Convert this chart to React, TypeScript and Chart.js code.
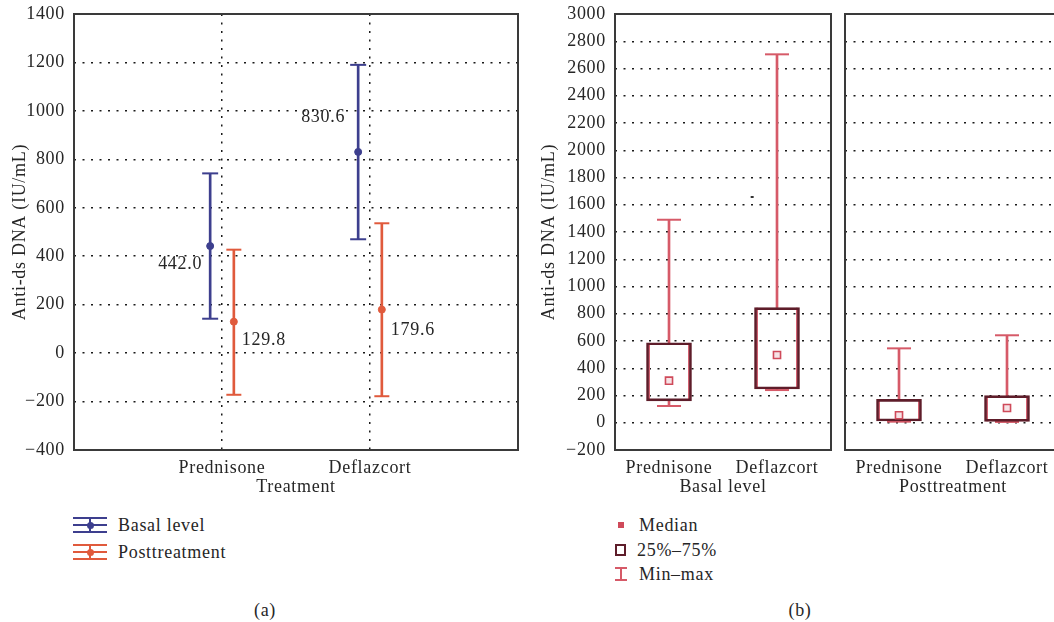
import React, { useEffect, useRef } from 'react';
import { Chart, registerables } from 'chart.js';

Chart.register(...registerables);

// ---------- data ----------
const treatments = ['Prednisone', 'Deflazcort'];
const basalMean = [442.0, 830.6];
const basalLow = [142, 470];
const basalHigh = [742, 1190];
const postMean = [129.8, 179.6];
const postLow = [-172, -178];
const postHigh = [427, 536];
const leftYMin = -400;
const leftYMax = 1400;

const boxCategories = ['Prednisone', 'Deflazcort'];
const basalMin = [123, 240];
const basalQ1 = [160, 248];
const basalMedian = [309, 497];
const basalQ3 = [587, 845];
const basalMax = [1490, 2704];
const postMin = [8, 6];
const postQ1 = [13, 10];
const postMedian = [55, 108];
const postQ3 = [172, 199];
const postMax = [546, 642];
const basalStrayPos = [2.54];
const basalStrayValue = [1657];
const rightYMin = -200;
const rightYMax = 3000;
const yStep = 200;

// ---------- style ----------
const FONT = "'Liberation Serif', 'Times New Roman', serif";
const TEXT = '#262626';
const GRID = '#1a1a1a';
const FRAME = '#3a3a3a';
const BLUE = '#3d3f8e';
const ORANGE = '#e05a3c';
const WHISK = '#d65a68';
const BOXC = '#5e1d2a';
const BOXIN = '#d26070';
const MED = '#cf4a5a';
const DASH = [2, 6.5];
const SPACING = '0.7px';

const basalLabelOffset = [[-30, 18], [-35, -35]];
const postLabelOffset = [[30, 19], [31, 21]];
const OFFS = 0.08;

const fmt = (v: number) => (v < 0 ? '\u2212' + String(-v) : String(v));

const spacingPlugin = {
  id: 'spacing',
  beforeDraw(chart: any) {
    try {
      chart.ctx.letterSpacing = SPACING;
    } catch (e) {
      /* ignore */
    }
  },
};

const framePlugin = {
  id: 'frame',
  afterDatasetsDraw(chart: any) {
    const { ctx, chartArea: a } = chart;
    ctx.save();
    ctx.strokeStyle = FRAME;
    ctx.lineWidth = 2;
    ctx.strokeRect(a.left, a.top, a.right - a.left, a.bottom - a.top);
    ctx.restore();
  },
};

function yScale(min: number, max: number, title: string, showLabels: boolean, width: number, titlePad: number) {
  return {
    type: 'linear',
    min,
    max,
    ticks: {
      stepSize: yStep,
      display: showLabels,
      padding: 9,
      color: TEXT,
      font: { family: FONT, size: 18 },
      callback: (v: number) => fmt(v),
    },
    grid: { color: GRID, lineWidth: 1.5, drawTicks: false },
    border: { display: false, dash: DASH },
    title: {
      display: !!title,
      text: title,
      color: TEXT,
      font: { family: FONT, size: 18 },
      padding: { top: titlePad, bottom: 0 },
    },
    afterFit: (s: any) => {
      s.width = width;
      s.paddingTop = 0;
      s.paddingBottom = 0;
    },
  };
}

function xScale(labels: string[], positions: number[], max: number, title: string, vgrid: boolean) {
  return {
    type: 'linear',
    min: 0,
    max,
    offset: false,
    afterBuildTicks: (s: any) => {
      s.ticks = positions.map((v) => ({ value: v }));
    },
    ticks: {
      callback: (v: number) => {
        const i = positions.indexOf(v);
        return i >= 0 ? labels[i] : '';
      },
      padding: 7,
      maxRotation: 0,
      autoSkip: false,
      color: TEXT,
      font: { family: FONT, size: 18 },
    },
    grid: { display: vgrid, offset: false, color: GRID, lineWidth: 1.5, drawTicks: false },
    border: { display: false, dash: DASH },
    title: {
      display: true,
      text: title,
      color: TEXT,
      font: { family: FONT, size: 18 },
      padding: { top: 0, bottom: 2 },
    },
    afterFit: (s: any) => {
      s.height = 50;
      s.paddingLeft = 0;
      s.paddingRight = 0;
    },
  };
}

function leftConfig(): any {
  const basalX = treatments.map((_, i) => i + 1 - OFFS);
  const postX = treatments.map((_, i) => i + 1 + OFFS);
  const labelPlugin = {
    id: 'meanLabels',
    afterDatasetsDraw(chart: any) {
      const { ctx, scales } = chart;
      const x = scales.x;
      const y = scales.y;
      ctx.save();
      ctx.font = `18px ${FONT}`;
      ctx.fillStyle = TEXT;
      ctx.textAlign = 'center';
      ctx.textBaseline = 'middle';
      basalMean.forEach((m, i) => {
        ctx.fillText(
          m.toFixed(1),
          x.getPixelForValue(basalX[i]) + basalLabelOffset[i][0],
          y.getPixelForValue(m) + basalLabelOffset[i][1]
        );
      });
      postMean.forEach((m, i) => {
        ctx.fillText(
          m.toFixed(1),
          x.getPixelForValue(postX[i]) + postLabelOffset[i][0],
          y.getPixelForValue(m) + postLabelOffset[i][1]
        );
      });
      ctx.restore();
    },
  };
  return {
    type: 'bar',
    data: {
      datasets: [
        {
          type: 'scatter',
          data: basalMean.map((m, i) => ({ x: basalX[i], y: m })),
          pointStyle: 'circle',
          pointRadius: 3.5,
          backgroundColor: BLUE,
          borderColor: BLUE,
          order: 0,
        },
        {
          type: 'scatter',
          data: postMean.map((m, i) => ({ x: postX[i], y: m })),
          pointStyle: 'circle',
          pointRadius: 3.5,
          backgroundColor: ORANGE,
          borderColor: ORANGE,
          order: 0,
        },
        {
          type: 'scatter',
          data: [
            ...basalLow.map((v, i) => ({ x: basalX[i], y: v })),
            ...basalHigh.map((v, i) => ({ x: basalX[i], y: v })),
          ],
          pointStyle: 'line',
          pointRadius: 8,
          borderWidth: 2,
          borderColor: BLUE,
          order: 1,
        },
        {
          type: 'scatter',
          data: [
            ...postLow.map((v, i) => ({ x: postX[i], y: v })),
            ...postHigh.map((v, i) => ({ x: postX[i], y: v })),
          ],
          pointStyle: 'line',
          pointRadius: 7.5,
          borderWidth: 2,
          borderColor: ORANGE,
          order: 1,
        },
        {
          type: 'bar',
          data: basalX.map((x, i) => ({ x, y: [basalLow[i], basalHigh[i]] })),
          maxBarThickness: 2,
          barPercentage: 1,
          categoryPercentage: 1,
          grouped: false,
          backgroundColor: BLUE,
          borderWidth: 0,
          order: 2,
        },
        {
          type: 'bar',
          data: postX.map((x, i) => ({ x, y: [postLow[i], postHigh[i]] })),
          maxBarThickness: 2,
          barPercentage: 1,
          categoryPercentage: 1,
          grouped: false,
          backgroundColor: ORANGE,
          borderWidth: 0,
          order: 2,
        },
      ],
    },
    options: {
      responsive: false,
      animation: false,
      events: [],
      devicePixelRatio: 1,
      layout: { autoPadding: false, padding: { left: 0, top: 14, right: 12, bottom: 0 } },
      plugins: { legend: { display: false }, tooltip: { enabled: false } },
      scales: {
        x: xScale(treatments, [1, 2], 3, 'Treatment', true),
        y: yScale(leftYMin, leftYMax, 'Anti-ds DNA (IU/mL)', true, 74, 9),
      },
    },
    plugins: [spacingPlugin, framePlugin, labelPlugin],
  };
}

function boxConfig(
  title: string,
  mins: number[],
  q1: number[],
  med: number[],
  q3: number[],
  maxs: number[],
  strayPos: number[],
  strayVal: number[],
  withYAxis: boolean
): any {
  const xs = boxCategories.map((_, i) => 1 + 2 * i);
  return {
    type: 'bar',
    data: {
      datasets: [
        {
          type: 'scatter',
          data: med.map((m, i) => ({ x: xs[i], y: m })),
          pointStyle: 'rect',
          pointRadius: 5,
          borderWidth: 1.6,
          borderColor: MED,
          backgroundColor: '#f6e3e6',
          order: 0,
        },
        {
          type: 'scatter',
          data: strayVal.map((v, i) => ({ x: strayPos[i], y: v })),
          pointStyle: 'line',
          pointRadius: 1.5,
          borderWidth: 2,
          borderColor: '#333',
          order: 0,
        },
        {
          type: 'bar',
          data: xs.map((x, i) => ({ x, y: [q1[i], q3[i]] })),
          maxBarThickness: 45,
          barPercentage: 1,
          categoryPercentage: 1,
          grouped: false,
          backgroundColor: 'rgba(255,255,255,0)',
          borderColor: BOXC,
          borderWidth: 2,
          borderSkipped: false,
          order: 1,
        },
        {
          type: 'bar',
          data: xs.map((x, i) => ({ x, y: [q1[i], q3[i]] })),
          maxBarThickness: 41,
          barPercentage: 1,
          categoryPercentage: 1,
          grouped: false,
          backgroundColor: 'rgba(255,255,255,0)',
          borderColor: BOXIN,
          borderWidth: { left: 1.2, right: 1.2, top: 0, bottom: 0 },
          borderSkipped: false,
          order: 2,
        },
        {
          type: 'scatter',
          data: [...mins.map((v, i) => ({ x: xs[i], y: v })), ...maxs.map((v, i) => ({ x: xs[i], y: v }))],
          pointStyle: 'line',
          pointRadius: 12,
          borderWidth: 2,
          borderColor: WHISK,
          order: 3,
        },
        {
          type: 'bar',
          data: xs.map((x, i) => ({ x, y: [q3[i], maxs[i]] })),
          maxBarThickness: 2,
          barPercentage: 1,
          categoryPercentage: 1,
          grouped: false,
          backgroundColor: WHISK,
          borderWidth: 0,
          order: 4,
        },
        {
          type: 'bar',
          data: xs.map((x, i) => ({ x, y: [mins[i], q1[i]] })),
          maxBarThickness: 2,
          barPercentage: 1,
          categoryPercentage: 1,
          grouped: false,
          backgroundColor: WHISK,
          borderWidth: 0,
          order: 4,
        },
      ],
    },
    options: {
      responsive: false,
      animation: false,
      events: [],
      devicePixelRatio: 1,
      layout: { autoPadding: false, padding: { left: 0, top: 14, right: 9, bottom: 0 } },
      plugins: { legend: { display: false }, tooltip: { enabled: false } },
      scales: {
        x: xScale(boxCategories, xs, 4, title, false),
        y: withYAxis
          ? yScale(rightYMin, rightYMax, 'Anti-ds DNA (IU/mL)', true, 85, 8)
          : yScale(rightYMin, rightYMax, '', false, 5, 0),
      },
    },
    plugins: [spacingPlugin, framePlugin],
  };
}

const abs = (extra: any): any => ({ position: 'absolute', ...extra });

function TextAt({ x, cy, children, center }: any) {
  return (
    <div
      style={abs({
        left: center ? x - 100 : x,
        width: center ? 200 : undefined,
        textAlign: center ? 'center' : 'left',
        top: cy - 11,
        height: 22,
        lineHeight: '22px',
        fontSize: 18,
        letterSpacing: SPACING,
        whiteSpace: 'nowrap',
      })}
    >
      {children}
    </div>
  );
}

function ErrIcon({ color, top }: any) {
  return (
    <div style={abs({ left: 73, top, width: 34, height: 16 })}>
      <div style={abs({ left: 0, top: 0, width: 34, height: 2, background: color })} />
      <div style={abs({ left: 0, top: 7, width: 34, height: 2, background: color })} />
      <div style={abs({ left: 0, top: 14, width: 34, height: 2, background: color })} />
      <div style={abs({ left: 16, top: 1, width: 2, height: 14, background: color })} />
      <div style={abs({ left: 13.5, top: 4.5, width: 7, height: 7, borderRadius: '50%', background: color })} />
    </div>
  );
}

export default function App() {
  const r1 = useRef<HTMLCanvasElement>(null);
  const r2 = useRef<HTMLCanvasElement>(null);
  const r3 = useRef<HTMLCanvasElement>(null);

  useEffect(() => {
    const c1 = new Chart(r1.current as HTMLCanvasElement, leftConfig());
    const c2 = new Chart(
      r2.current as HTMLCanvasElement,
      boxConfig('Basal level', basalMin, basalQ1, basalMedian, basalQ3, basalMax, basalStrayPos, basalStrayValue, true)
    );
    const c3 = new Chart(
      r3.current as HTMLCanvasElement,
      boxConfig('Posttreatment', postMin, postQ1, postMedian, postQ3, postMax, [], [], false)
    );
    return () => {
      c1.destroy();
      c2.destroy();
      c3.destroy();
    };
  }, []);

  return (
    <div
      style={abs({
        left: 0,
        top: 0,
        width: 1054,
        height: 622,
        overflow: 'hidden',
        background: '#fff',
        fontFamily: FONT,
        color: TEXT,
      })}
    >
      <canvas ref={r1} width={530} height={500} style={abs({ left: 0, top: 0 })} />
      <canvas ref={r2} width={310} height={500} style={abs({ left: 530, top: 0 })} />
      <canvas ref={r3} width={230} height={500} style={abs({ left: 840, top: 0 })} />

      {/* legend (a) */}
      <ErrIcon color={BLUE} top={517} />
      <TextAt x={118} cy={525}>Basal level</TextAt>
      <ErrIcon color={ORANGE} top={544} />
      <TextAt x={118} cy={552}>Posttreatment</TextAt>

      {/* legend (b) */}
      <div style={abs({ left: 618, top: 522, width: 6, height: 6, background: MED })} />
      <TextAt x={639} cy={525}>Median</TextAt>
      <div
        style={abs({
          left: 615,
          top: 544,
          width: 11,
          height: 12,
          boxSizing: 'border-box',
          border: `2.5px solid ${BOXC}`,
        })}
      />
      <TextAt x={637} cy={550}>25%–75%</TextAt>
      <div style={abs({ left: 615, top: 567, width: 12, height: 2, background: WHISK })} />
      <div style={abs({ left: 620, top: 567, width: 2, height: 14, background: WHISK })} />
      <div style={abs({ left: 615, top: 579, width: 12, height: 2, background: WHISK })} />
      <TextAt x={639} cy={574}>Min–max</TextAt>

      <TextAt x={265} cy={610} center>
        (a)
      </TextAt>
      <TextAt x={800} cy={610} center>
        (b)
      </TextAt>
    </div>
  );
}
